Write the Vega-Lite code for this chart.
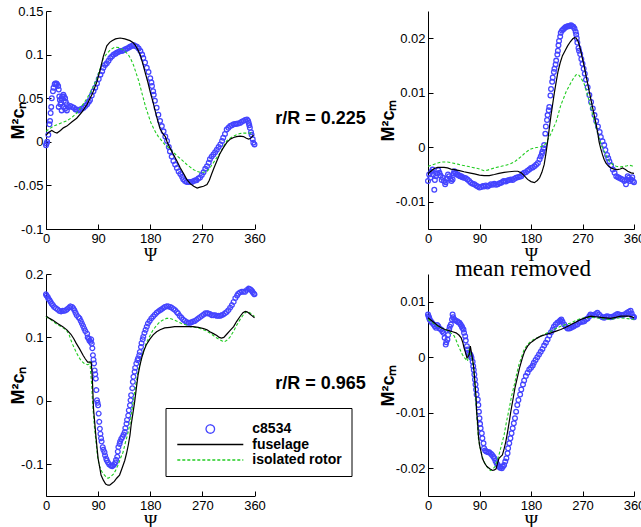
{
"$schema": "https://vega.github.io/schema/vega-lite/v6.json",
"padding": {"left": 9, "top": 5, "right": 0, "bottom": 0},
"config": {
 "view": {"stroke": null},
 "font": "Liberation Sans",
 "axis": {"domainColor": "#000", "domainWidth": 1, "tickColor": "#000", "tickWidth": 1, "tickSize": -5, "labelFont": "Liberation Sans", "labelFontSize": 13, "labelColor": "#000", "grid": false, "titleColor": "#000", "labelPadding": 8},
 "axisX": {"titleFont": "Liberation Serif", "titleFontSize": 18, "titleFontWeight": "normal", "titlePadding": 1, "labelFlush": false},
 "axisY": {"titleFont": "Liberation Sans", "titleFontWeight": "bold", "titleFontSize": 18}
},
"columns": 2,
"spacing": {"row": 45, "column": 173},
"bounds": "flush",
"align": "each",
"resolve": {"scale": {"color": "independent", "shape": "independent", "strokeDash": "independent", "x": "independent", "y": "independent"}, "legend": {"color": "independent", "shape": "independent", "strokeDash": "independent"}},
"datasets": {
 "p1c": [{"psi":0,"v":-0.004},{"psi":1,"v":-0.002},{"psi":2,"v":0.0},{"psi":4,"v":0.008},{"psi":6,"v":0.02},{"psi":7,"v":0.024},{"psi":8,"v":0.033},{"psi":9,"v":0.04},{"psi":10,"v":0.05},{"psi":12,"v":0.058},{"psi":13,"v":0.062},{"psi":15,"v":0.066},{"psi":16,"v":0.067},{"psi":18,"v":0.067},{"psi":19,"v":0.066},{"psi":21,"v":0.064},{"psi":22,"v":0.06},{"psi":23,"v":0.052},{"psi":24,"v":0.048},{"psi":25,"v":0.043},{"psi":26,"v":0.045},{"psi":27,"v":0.05},{"psi":28,"v":0.052},{"psi":30,"v":0.054},{"psi":31,"v":0.052},{"psi":33,"v":0.05},{"psi":34,"v":0.046},{"psi":36,"v":0.043},{"psi":22,"v":0.04},{"psi":27,"v":0.036},{"psi":30,"v":0.04},{"psi":33,"v":0.038},{"psi":36,"v":0.036},{"psi":39,"v":0.04},{"psi":42,"v":0.041},{"psi":45,"v":0.04},{"psi":48,"v":0.039},{"psi":51,"v":0.037},{"psi":53,"v":0.037},{"psi":56,"v":0.036},{"psi":59,"v":0.037},{"psi":62,"v":0.038},{"psi":65,"v":0.039},{"psi":68,"v":0.041},{"psi":71,"v":0.043},{"psi":74,"v":0.046},{"psi":76,"v":0.048},{"psi":79,"v":0.053},{"psi":82,"v":0.058},{"psi":85,"v":0.062},{"psi":88,"v":0.067},{"psi":91,"v":0.072},{"psi":94,"v":0.077},{"psi":97,"v":0.081},{"psi":99,"v":0.085},{"psi":102,"v":0.088},{"psi":105,"v":0.09},{"psi":108,"v":0.093},{"psi":111,"v":0.096},{"psi":114,"v":0.098},{"psi":117,"v":0.1},{"psi":120,"v":0.101},{"psi":122,"v":0.102},{"psi":125,"v":0.103},{"psi":128,"v":0.104},{"psi":131,"v":0.104},{"psi":134,"v":0.105},{"psi":137,"v":0.106},{"psi":140,"v":0.107},{"psi":143,"v":0.108},{"psi":145,"v":0.109},{"psi":148,"v":0.11},{"psi":151,"v":0.111},{"psi":154,"v":0.11},{"psi":157,"v":0.109},{"psi":160,"v":0.107},{"psi":163,"v":0.104},{"psi":166,"v":0.1},{"psi":168,"v":0.096},{"psi":171,"v":0.091},{"psi":174,"v":0.085},{"psi":177,"v":0.08},{"psi":180,"v":0.073},{"psi":182,"v":0.068},{"psi":183,"v":0.064},{"psi":185,"v":0.058},{"psi":186,"v":0.054},{"psi":188,"v":0.047},{"psi":191,"v":0.039},{"psi":194,"v":0.031},{"psi":197,"v":0.024},{"psi":200,"v":0.018},{"psi":203,"v":0.012},{"psi":206,"v":0.006},{"psi":209,"v":0.001},{"psi":212,"v":-0.006},{"psi":214,"v":-0.011},{"psi":217,"v":-0.017},{"psi":220,"v":-0.022},{"psi":223,"v":-0.026},{"psi":226,"v":-0.03},{"psi":229,"v":-0.034},{"psi":232,"v":-0.037},{"psi":235,"v":-0.04},{"psi":237,"v":-0.043},{"psi":240,"v":-0.045},{"psi":243,"v":-0.046},{"psi":246,"v":-0.046},{"psi":249,"v":-0.046},{"psi":252,"v":-0.046},{"psi":255,"v":-0.045},{"psi":258,"v":-0.044},{"psi":260,"v":-0.044},{"psi":263,"v":-0.042},{"psi":266,"v":-0.041},{"psi":269,"v":-0.038},{"psi":272,"v":-0.035},{"psi":275,"v":-0.031},{"psi":278,"v":-0.028},{"psi":281,"v":-0.024},{"psi":283,"v":-0.02},{"psi":286,"v":-0.017},{"psi":289,"v":-0.0145},{"psi":292,"v":-0.012},{"psi":295,"v":-0.009},{"psi":298,"v":-0.006},{"psi":301,"v":-0.003},{"psi":304,"v":0.001},{"psi":306,"v":0.0046},{"psi":309,"v":0.009},{"psi":312,"v":0.014},{"psi":315,"v":0.016},{"psi":318,"v":0.018},{"psi":321,"v":0.019},{"psi":324,"v":0.02},{"psi":327,"v":0.0205},{"psi":329,"v":0.0206},{"psi":332,"v":0.021},{"psi":335,"v":0.0217},{"psi":338,"v":0.023},{"psi":341,"v":0.024},{"psi":344,"v":0.025},{"psi":347,"v":0.0255},{"psi":349,"v":0.024},{"psi":350,"v":0.0217},{"psi":351,"v":0.019},{"psi":352,"v":0.016},{"psi":354,"v":0.011},{"psi":355,"v":0.008},{"psi":357,"v":0.003},{"psi":358,"v":-0.001},{"psi":360,"v":-0.003}],
 "p1f": [{"psi":0,"v":0.0075},{"psi":5,"v":0.011},{"psi":10,"v":0.013},{"psi":15,"v":0.011},{"psi":19,"v":0.01},{"psi":25,"v":0.013},{"psi":30,"v":0.016},{"psi":36,"v":0.018},{"psi":45,"v":0.023},{"psi":53,"v":0.027},{"psi":62,"v":0.034},{"psi":71,"v":0.043},{"psi":80,"v":0.055},{"psi":88,"v":0.069},{"psi":94,"v":0.084},{"psi":99,"v":0.098},{"psi":105,"v":0.11},{"psi":110,"v":0.114},{"psi":114,"v":0.116},{"psi":120,"v":0.118},{"psi":128,"v":0.119},{"psi":136,"v":0.118},{"psi":145,"v":0.116},{"psi":150,"v":0.114},{"psi":154,"v":0.111},{"psi":159,"v":0.105},{"psi":163,"v":0.099},{"psi":167,"v":0.09},{"psi":171,"v":0.08},{"psi":176,"v":0.068},{"psi":180,"v":0.057},{"psi":185,"v":0.045},{"psi":189,"v":0.034},{"psi":193,"v":0.024},{"psi":197,"v":0.015},{"psi":202,"v":0.009},{"psi":206,"v":0.006},{"psi":209,"v":0.0},{"psi":214,"v":-0.007},{"psi":220,"v":-0.0145},{"psi":226,"v":-0.022},{"psi":232,"v":-0.03},{"psi":238,"v":-0.037},{"psi":243,"v":-0.043},{"psi":249,"v":-0.048},{"psi":255,"v":-0.051},{"psi":261,"v":-0.053},{"psi":266,"v":-0.052},{"psi":272,"v":-0.051},{"psi":278,"v":-0.049},{"psi":282,"v":-0.044},{"psi":286,"v":-0.037},{"psi":290,"v":-0.03},{"psi":295,"v":-0.022},{"psi":300,"v":-0.014},{"psi":306,"v":-0.007},{"psi":312,"v":-0.001},{"psi":318,"v":0.003},{"psi":324,"v":0.005},{"psi":329,"v":0.006},{"psi":335,"v":0.0065},{"psi":341,"v":0.006},{"psi":346,"v":0.004},{"psi":350,"v":0.003},{"psi":353,"v":0.004},{"psi":356,"v":0.006},{"psi":358,"v":0.008}],
 "p1i": [{"psi":0,"v":0.012},{"psi":6,"v":0.015},{"psi":13,"v":0.018},{"psi":24,"v":0.021},{"psi":36,"v":0.024},{"psi":45,"v":0.028},{"psi":53,"v":0.033},{"psi":62,"v":0.041},{"psi":71,"v":0.05},{"psi":80,"v":0.061},{"psi":88,"v":0.073},{"psi":94,"v":0.085},{"psi":99,"v":0.096},{"psi":105,"v":0.101},{"psi":112,"v":0.106},{"psi":119,"v":0.1086},{"psi":126,"v":0.108},{"psi":134,"v":0.105},{"psi":139,"v":0.102},{"psi":143,"v":0.099},{"psi":147,"v":0.094},{"psi":151,"v":0.088},{"psi":155,"v":0.08},{"psi":160,"v":0.07},{"psi":164,"v":0.06},{"psi":168,"v":0.05},{"psi":172,"v":0.04},{"psi":177,"v":0.03},{"psi":181,"v":0.022},{"psi":186,"v":0.015},{"psi":190,"v":0.01},{"psi":194,"v":0.006},{"psi":200,"v":0.001},{"psi":205,"v":-0.003},{"psi":209,"v":-0.005},{"psi":217,"v":-0.01},{"psi":226,"v":-0.016},{"psi":235,"v":-0.021},{"psi":243,"v":-0.026},{"psi":249,"v":-0.029},{"psi":255,"v":-0.032},{"psi":261,"v":-0.034},{"psi":266,"v":-0.035},{"psi":272,"v":-0.035},{"psi":278,"v":-0.034},{"psi":283,"v":-0.03},{"psi":289,"v":-0.024},{"psi":295,"v":-0.018},{"psi":301,"v":-0.0126},{"psi":306,"v":-0.006},{"psi":312,"v":0.001},{"psi":318,"v":0.004},{"psi":324,"v":0.0065},{"psi":329,"v":0.008},{"psi":335,"v":0.0095},{"psi":341,"v":0.01},{"psi":347,"v":0.01},{"psi":353,"v":0.01},{"psi":358,"v":0.01}],
 "p2c": [{"psi":0,"v":-0.0062},{"psi":2,"v":-0.005},{"psi":4,"v":-0.0056},{"psi":6,"v":-0.0045},{"psi":8,"v":-0.0041},{"psi":9,"v":-0.005},{"psi":11,"v":-0.0078},{"psi":12,"v":-0.006},{"psi":14,"v":-0.0053},{"psi":16,"v":-0.0048},{"psi":18,"v":-0.0042},{"psi":20,"v":-0.0047},{"psi":22,"v":-0.0052},{"psi":24,"v":-0.006},{"psi":26,"v":-0.0056},{"psi":28,"v":-0.0062},{"psi":30,"v":-0.0068},{"psi":31,"v":-0.0064},{"psi":33,"v":-0.0058},{"psi":35,"v":-0.005},{"psi":37,"v":-0.0053},{"psi":39,"v":-0.0058},{"psi":41,"v":-0.0062},{"psi":43,"v":-0.0059},{"psi":45,"v":-0.0048},{"psi":46,"v":-0.0044},{"psi":48,"v":-0.0047},{"psi":50,"v":-0.005},{"psi":52,"v":-0.005},{"psi":54,"v":-0.0052},{"psi":56,"v":-0.0053},{"psi":58,"v":-0.0053},{"psi":60,"v":-0.0055},{"psi":63,"v":-0.0056},{"psi":66,"v":-0.0057},{"psi":69,"v":-0.0059},{"psi":72,"v":-0.0062},{"psi":75,"v":-0.0065},{"psi":78,"v":-0.0067},{"psi":81,"v":-0.0068},{"psi":84,"v":-0.007},{"psi":87,"v":-0.0072},{"psi":90,"v":-0.0074},{"psi":93,"v":-0.0073},{"psi":96,"v":-0.0071},{"psi":98,"v":-0.0072},{"psi":101,"v":-0.007},{"psi":104,"v":-0.0072},{"psi":107,"v":-0.007},{"psi":110,"v":-0.0068},{"psi":113,"v":-0.0069},{"psi":116,"v":-0.0067},{"psi":119,"v":-0.0069},{"psi":122,"v":-0.0068},{"psi":125,"v":-0.0066},{"psi":128,"v":-0.0065},{"psi":131,"v":-0.0063},{"psi":133,"v":-0.0062},{"psi":136,"v":-0.0063},{"psi":139,"v":-0.0061},{"psi":142,"v":-0.006},{"psi":145,"v":-0.0059},{"psi":148,"v":-0.006},{"psi":151,"v":-0.0058},{"psi":154,"v":-0.0056},{"psi":157,"v":-0.0055},{"psi":160,"v":-0.0054},{"psi":163,"v":-0.0053},{"psi":165,"v":-0.0049},{"psi":168,"v":-0.0047},{"psi":171,"v":-0.0046},{"psi":174,"v":-0.0043},{"psi":177,"v":-0.0041},{"psi":180,"v":-0.0038},{"psi":183,"v":-0.0037},{"psi":186,"v":-0.0035},{"psi":189,"v":-0.0032},{"psi":192,"v":-0.0029},{"psi":195,"v":-0.0022},{"psi":197,"v":-0.0017},{"psi":199,"v":-0.0012},{"psi":200,"v":-0.0008},{"psi":202,"v":-0.0002},{"psi":203,"v":0.0004},{"psi":205,"v":0.0025},{"psi":206,"v":0.0038},{"psi":208,"v":0.005},{"psi":209,"v":0.0059},{"psi":211,"v":0.0068},{"psi":212,"v":0.0074},{"psi":214,"v":0.0095},{"psi":215,"v":0.0107},{"psi":217,"v":0.012},{"psi":218,"v":0.0128},{"psi":220,"v":0.0138},{"psi":221,"v":0.0144},{"psi":223,"v":0.0152},{"psi":224,"v":0.0159},{"psi":226,"v":0.017},{"psi":227,"v":0.0177},{"psi":228,"v":0.0187},{"psi":229,"v":0.0195},{"psi":231,"v":0.0203},{"psi":232,"v":0.021},{"psi":234,"v":0.0214},{"psi":236,"v":0.0216},{"psi":238,"v":0.0218},{"psi":240,"v":0.022},{"psi":242,"v":0.0221},{"psi":244,"v":0.0222},{"psi":246,"v":0.0222},{"psi":248,"v":0.0223},{"psi":250,"v":0.0224},{"psi":252,"v":0.0222},{"psi":254,"v":0.0221},{"psi":256,"v":0.0218},{"psi":258,"v":0.0212},{"psi":259,"v":0.0207},{"psi":260,"v":0.02},{"psi":261,"v":0.0192},{"psi":263,"v":0.0182},{"psi":264,"v":0.0177},{"psi":266,"v":0.0171},{"psi":268,"v":0.0162},{"psi":270,"v":0.0153},{"psi":272,"v":0.0144},{"psi":274,"v":0.0135},{"psi":276,"v":0.0124},{"psi":279,"v":0.011},{"psi":282,"v":0.0096},{"psi":285,"v":0.0083},{"psi":288,"v":0.0071},{"psi":291,"v":0.0059},{"psi":294,"v":0.0048},{"psi":297,"v":0.0038},{"psi":300,"v":0.0028},{"psi":302,"v":0.0019},{"psi":305,"v":0.0011},{"psi":308,"v":0.0004},{"psi":310,"v":-0.0005},{"psi":313,"v":-0.0014},{"psi":315,"v":-0.002},{"psi":317,"v":-0.0026},{"psi":320,"v":-0.0033},{"psi":323,"v":-0.0041},{"psi":326,"v":-0.0047},{"psi":329,"v":-0.0053},{"psi":332,"v":-0.0055},{"psi":334,"v":-0.0056},{"psi":337,"v":-0.0058},{"psi":340,"v":-0.0059},{"psi":343,"v":-0.0062},{"psi":346,"v":-0.0068},{"psi":348,"v":-0.006},{"psi":349,"v":-0.0053},{"psi":351,"v":-0.0056},{"psi":353,"v":-0.0062},{"psi":355,"v":-0.0059},{"psi":357,"v":-0.0055},{"psi":358,"v":-0.0062},{"psi":360,"v":-0.0064}],
 "p2f": [{"psi":0,"v":-0.0048},{"psi":5,"v":-0.0044},{"psi":11,"v":-0.0039},{"psi":17,"v":-0.0037},{"psi":23,"v":-0.0037},{"psi":28,"v":-0.0037},{"psi":34,"v":-0.0038},{"psi":40,"v":-0.004},{"psi":46,"v":-0.0041},{"psi":55,"v":-0.0043},{"psi":63,"v":-0.0045},{"psi":72,"v":-0.0047},{"psi":81,"v":-0.0049},{"psi":90,"v":-0.0051},{"psi":98,"v":-0.0052},{"psi":107,"v":-0.0052},{"psi":116,"v":-0.005},{"psi":124,"v":-0.0048},{"psi":133,"v":-0.0046},{"psi":142,"v":-0.0045},{"psi":151,"v":-0.0044},{"psi":157,"v":-0.0044},{"psi":163,"v":-0.0047},{"psi":168,"v":-0.0052},{"psi":174,"v":-0.0059},{"psi":180,"v":-0.0063},{"psi":186,"v":-0.0065},{"psi":191,"v":-0.0061},{"psi":195,"v":-0.0056},{"psi":199,"v":-0.0046},{"psi":203,"v":-0.0032},{"psi":206,"v":-0.0012},{"psi":209,"v":0.001},{"psi":212,"v":0.0035},{"psi":215,"v":0.0059},{"psi":218,"v":0.008},{"psi":221,"v":0.0101},{"psi":224,"v":0.012},{"psi":227,"v":0.0138},{"psi":231,"v":0.0155},{"psi":235,"v":0.0168},{"psi":240,"v":0.0178},{"psi":244,"v":0.0186},{"psi":249,"v":0.0194},{"psi":253,"v":0.0199},{"psi":256,"v":0.0201},{"psi":259,"v":0.02},{"psi":262,"v":0.0195},{"psi":264,"v":0.0189},{"psi":267,"v":0.0177},{"psi":270,"v":0.0162},{"psi":273,"v":0.0148},{"psi":276,"v":0.0132},{"psi":279,"v":0.0117},{"psi":282,"v":0.0101},{"psi":285,"v":0.0086},{"psi":288,"v":0.0071},{"psi":291,"v":0.0056},{"psi":294,"v":0.0041},{"psi":297,"v":0.0024},{"psi":299,"v":0.001},{"psi":302,"v":-0.0003},{"psi":305,"v":-0.0014},{"psi":308,"v":-0.0023},{"psi":311,"v":-0.0029},{"psi":315,"v":-0.0034},{"psi":320,"v":-0.0038},{"psi":325,"v":-0.004},{"psi":331,"v":-0.0041},{"psi":336,"v":-0.004},{"psi":340,"v":-0.0038},{"psi":345,"v":-0.0041},{"psi":349,"v":-0.0044},{"psi":355,"v":-0.0047},{"psi":360,"v":-0.0048}],
 "p2i": [{"psi":0,"v":-0.0035},{"psi":6,"v":-0.0033},{"psi":11,"v":-0.0031},{"psi":17,"v":-0.0029},{"psi":23,"v":-0.0027},{"psi":29,"v":-0.0027},{"psi":34,"v":-0.0027},{"psi":43,"v":-0.0029},{"psi":52,"v":-0.0031},{"psi":60,"v":-0.0033},{"psi":69,"v":-0.0035},{"psi":78,"v":-0.0037},{"psi":87,"v":-0.0039},{"psi":93,"v":-0.0041},{"psi":98,"v":-0.0043},{"psi":104,"v":-0.0042},{"psi":110,"v":-0.004},{"psi":119,"v":-0.0037},{"psi":128,"v":-0.0035},{"psi":136,"v":-0.0033},{"psi":145,"v":-0.003},{"psi":151,"v":-0.0027},{"psi":157,"v":-0.0022},{"psi":163,"v":-0.0017},{"psi":168,"v":-0.0012},{"psi":174,"v":-0.0007},{"psi":180,"v":-0.0003},{"psi":186,"v":-0.0001},{"psi":192,"v":0.0},{"psi":197,"v":0.0001},{"psi":202,"v":0.0003},{"psi":206,"v":0.0007},{"psi":210,"v":0.0015},{"psi":215,"v":0.0025},{"psi":219,"v":0.0035},{"psi":224,"v":0.0047},{"psi":228,"v":0.0062},{"psi":232,"v":0.0077},{"psi":237,"v":0.009},{"psi":241,"v":0.0101},{"psi":246,"v":0.0111},{"psi":250,"v":0.0119},{"psi":255,"v":0.0128},{"psi":259,"v":0.0133},{"psi":262,"v":0.0134},{"psi":264,"v":0.0132},{"psi":268,"v":0.0126},{"psi":273,"v":0.0116},{"psi":276,"v":0.0106},{"psi":279,"v":0.0095},{"psi":282,"v":0.0083},{"psi":285,"v":0.0071},{"psi":288,"v":0.0059},{"psi":291,"v":0.0047},{"psi":295,"v":0.0032},{"psi":299,"v":0.0016},{"psi":303,"v":0.0004},{"psi":308,"v":-0.0008},{"psi":312,"v":-0.0017},{"psi":317,"v":-0.0026},{"psi":323,"v":-0.0032},{"psi":329,"v":-0.0035},{"psi":336,"v":-0.0036},{"psi":343,"v":-0.0035},{"psi":348,"v":-0.0034},{"psi":352,"v":-0.0033},{"psi":356,"v":-0.0034},{"psi":360,"v":-0.0036}],
 "p3c": [{"psi":0,"v":0.168},{"psi":1,"v":0.166},{"psi":3,"v":0.164},{"psi":4,"v":0.161},{"psi":6,"v":0.159},{"psi":8,"v":0.156},{"psi":10,"v":0.153},{"psi":12,"v":0.151},{"psi":14,"v":0.148},{"psi":17,"v":0.146},{"psi":20,"v":0.144},{"psi":23,"v":0.142},{"psi":26,"v":0.141},{"psi":29,"v":0.142},{"psi":32,"v":0.142},{"psi":35,"v":0.143},{"psi":37,"v":0.145},{"psi":40,"v":0.147},{"psi":42,"v":0.149},{"psi":45,"v":0.148},{"psi":47,"v":0.146},{"psi":49,"v":0.143},{"psi":51,"v":0.139},{"psi":53,"v":0.135},{"psi":56,"v":0.132},{"psi":58,"v":0.13},{"psi":60,"v":0.126},{"psi":62,"v":0.122},{"psi":64,"v":0.118},{"psi":66,"v":0.114},{"psi":68,"v":0.11},{"psi":71,"v":0.106},{"psi":72,"v":0.1},{"psi":74,"v":0.098},{"psi":75,"v":0.095},{"psi":77,"v":0.093},{"psi":78,"v":0.097},{"psi":79,"v":0.09},{"psi":80,"v":0.083},{"psi":81,"v":0.072},{"psi":82,"v":0.065},{"psi":83,"v":0.059},{"psi":84,"v":0.048},{"psi":85,"v":0.042},{"psi":86,"v":0.035},{"psi":87,"v":0.017},{"psi":88,"v":0.001},{"psi":89,"v":-0.003},{"psi":90,"v":-0.007},{"psi":91,"v":-0.02},{"psi":92,"v":-0.033},{"psi":93,"v":-0.044},{"psi":94,"v":-0.052},{"psi":95,"v":-0.059},{"psi":96,"v":-0.064},{"psi":98,"v":-0.073},{"psi":99,"v":-0.077},{"psi":101,"v":-0.081},{"psi":102,"v":-0.086},{"psi":104,"v":-0.091},{"psi":105,"v":-0.094},{"psi":107,"v":-0.097},{"psi":109,"v":-0.1},{"psi":112,"v":-0.102},{"psi":114,"v":-0.103},{"psi":116,"v":-0.102},{"psi":118,"v":-0.1},{"psi":120,"v":-0.097},{"psi":121,"v":-0.093},{"psi":123,"v":-0.088},{"psi":124,"v":-0.08},{"psi":125,"v":-0.073},{"psi":127,"v":-0.068},{"psi":128,"v":-0.064},{"psi":130,"v":-0.06},{"psi":132,"v":-0.057},{"psi":134,"v":-0.053},{"psi":136,"v":-0.049},{"psi":137,"v":-0.043},{"psi":139,"v":-0.036},{"psi":140,"v":-0.03},{"psi":142,"v":-0.023},{"psi":143,"v":-0.015},{"psi":145,"v":-0.007},{"psi":146,"v":0.001},{"psi":147,"v":0.009},{"psi":149,"v":0.02},{"psi":150,"v":0.03},{"psi":151,"v":0.038},{"psi":153,"v":0.046},{"psi":154,"v":0.052},{"psi":156,"v":0.059},{"psi":158,"v":0.064},{"psi":159,"v":0.067},{"psi":161,"v":0.072},{"psi":162,"v":0.077},{"psi":164,"v":0.085},{"psi":165,"v":0.091},{"psi":167,"v":0.097},{"psi":168,"v":0.101},{"psi":170,"v":0.107},{"psi":172,"v":0.112},{"psi":174,"v":0.117},{"psi":176,"v":0.122},{"psi":179,"v":0.126},{"psi":182,"v":0.13},{"psi":185,"v":0.133},{"psi":188,"v":0.136},{"psi":191,"v":0.139},{"psi":194,"v":0.141},{"psi":197,"v":0.143},{"psi":199,"v":0.144},{"psi":202,"v":0.146},{"psi":205,"v":0.148},{"psi":208,"v":0.149},{"psi":211,"v":0.149},{"psi":214,"v":0.148},{"psi":217,"v":0.147},{"psi":220,"v":0.145},{"psi":223,"v":0.143},{"psi":226,"v":0.14},{"psi":228,"v":0.138},{"psi":231,"v":0.134},{"psi":234,"v":0.131},{"psi":237,"v":0.128},{"psi":240,"v":0.126},{"psi":243,"v":0.124},{"psi":246,"v":0.123},{"psi":249,"v":0.123},{"psi":251,"v":0.124},{"psi":254,"v":0.125},{"psi":257,"v":0.126},{"psi":260,"v":0.128},{"psi":263,"v":0.13},{"psi":266,"v":0.132},{"psi":269,"v":0.134},{"psi":272,"v":0.136},{"psi":275,"v":0.138},{"psi":278,"v":0.138},{"psi":280,"v":0.138},{"psi":283,"v":0.137},{"psi":286,"v":0.135},{"psi":289,"v":0.135},{"psi":292,"v":0.135},{"psi":295,"v":0.134},{"psi":298,"v":0.134},{"psi":301,"v":0.134},{"psi":303,"v":0.135},{"psi":306,"v":0.136},{"psi":309,"v":0.138},{"psi":312,"v":0.14},{"psi":315,"v":0.143},{"psi":318,"v":0.147},{"psi":321,"v":0.151},{"psi":324,"v":0.156},{"psi":327,"v":0.162},{"psi":330,"v":0.166},{"psi":332,"v":0.169},{"psi":335,"v":0.171},{"psi":338,"v":0.172},{"psi":341,"v":0.172},{"psi":344,"v":0.172},{"psi":347,"v":0.175},{"psi":350,"v":0.177},{"psi":352,"v":0.176},{"psi":354,"v":0.175},{"psi":356,"v":0.173},{"psi":357,"v":0.171},{"psi":359,"v":0.169},{"psi":360,"v":0.168}],
 "p3f": [{"psi":0,"v":0.134},{"psi":6,"v":0.13},{"psi":12,"v":0.127},{"psi":20,"v":0.122},{"psi":29,"v":0.117},{"psi":36,"v":0.112},{"psi":43,"v":0.105},{"psi":48,"v":0.098},{"psi":52,"v":0.091},{"psi":58,"v":0.082},{"psi":64,"v":0.072},{"psi":68,"v":0.066},{"psi":72,"v":0.061},{"psi":76,"v":0.061},{"psi":78,"v":0.061},{"psi":79,"v":0.05},{"psi":80,"v":0.035},{"psi":81,"v":0.012},{"psi":82,"v":-0.012},{"psi":84,"v":-0.033},{"psi":86,"v":-0.054},{"psi":88,"v":-0.073},{"psi":90,"v":-0.091},{"psi":93,"v":-0.106},{"psi":95,"v":-0.117},{"psi":99,"v":-0.125},{"psi":103,"v":-0.131},{"psi":107,"v":-0.133},{"psi":110,"v":-0.133},{"psi":114,"v":-0.13},{"psi":118,"v":-0.127},{"psi":122,"v":-0.122},{"psi":127,"v":-0.117},{"psi":131,"v":-0.107},{"psi":136,"v":-0.094},{"psi":139,"v":-0.083},{"psi":142,"v":-0.07},{"psi":145,"v":-0.054},{"psi":147,"v":-0.038},{"psi":150,"v":-0.02},{"psi":153,"v":-0.002},{"psi":156,"v":0.02},{"psi":159,"v":0.041},{"psi":162,"v":0.055},{"psi":165,"v":0.067},{"psi":169,"v":0.079},{"psi":173,"v":0.088},{"psi":179,"v":0.097},{"psi":185,"v":0.104},{"psi":191,"v":0.109},{"psi":197,"v":0.112},{"psi":205,"v":0.115},{"psi":214,"v":0.116},{"psi":222,"v":0.117},{"psi":231,"v":0.117},{"psi":243,"v":0.117},{"psi":254,"v":0.117},{"psi":263,"v":0.116},{"psi":272,"v":0.114},{"psi":278,"v":0.112},{"psi":283,"v":0.109},{"psi":289,"v":0.106},{"psi":295,"v":0.103},{"psi":299,"v":0.1},{"psi":303,"v":0.099},{"psi":307,"v":0.1},{"psi":312,"v":0.105},{"psi":318,"v":0.111},{"psi":324,"v":0.117},{"psi":329,"v":0.125},{"psi":335,"v":0.133},{"psi":340,"v":0.139},{"psi":344,"v":0.141},{"psi":348,"v":0.14},{"psi":352,"v":0.137},{"psi":356,"v":0.134},{"psi":360,"v":0.131}],
 "p3i": [{"psi":0,"v":0.133},{"psi":8,"v":0.128},{"psi":17,"v":0.122},{"psi":26,"v":0.117},{"psi":35,"v":0.112},{"psi":40,"v":0.104},{"psi":43,"v":0.096},{"psi":46,"v":0.089},{"psi":49,"v":0.083},{"psi":53,"v":0.075},{"psi":58,"v":0.067},{"psi":62,"v":0.062},{"psi":66,"v":0.059},{"psi":69,"v":0.058},{"psi":72,"v":0.057},{"psi":74,"v":0.058},{"psi":76,"v":0.062},{"psi":77,"v":0.045},{"psi":79,"v":0.025},{"psi":80,"v":0.005},{"psi":82,"v":-0.023},{"psi":84,"v":-0.045},{"psi":87,"v":-0.07},{"psi":89,"v":-0.088},{"psi":92,"v":-0.102},{"psi":96,"v":-0.111},{"psi":101,"v":-0.117},{"psi":104,"v":-0.12},{"psi":107,"v":-0.122},{"psi":111,"v":-0.12},{"psi":116,"v":-0.116},{"psi":120,"v":-0.11},{"psi":124,"v":-0.102},{"psi":128,"v":-0.092},{"psi":133,"v":-0.081},{"psi":137,"v":-0.066},{"psi":142,"v":-0.049},{"psi":145,"v":-0.036},{"psi":147,"v":-0.023},{"psi":150,"v":-0.005},{"psi":153,"v":0.014},{"psi":156,"v":0.03},{"psi":159,"v":0.046},{"psi":162,"v":0.057},{"psi":165,"v":0.067},{"psi":169,"v":0.08},{"psi":173,"v":0.091},{"psi":179,"v":0.102},{"psi":185,"v":0.112},{"psi":191,"v":0.119},{"psi":197,"v":0.125},{"psi":203,"v":0.128},{"psi":208,"v":0.13},{"psi":214,"v":0.13},{"psi":220,"v":0.128},{"psi":227,"v":0.125},{"psi":234,"v":0.122},{"psi":241,"v":0.12},{"psi":249,"v":0.117},{"psi":257,"v":0.116},{"psi":266,"v":0.114},{"psi":272,"v":0.112},{"psi":277,"v":0.11},{"psi":283,"v":0.107},{"psi":289,"v":0.103},{"psi":295,"v":0.099},{"psi":301,"v":0.096},{"psi":305,"v":0.094},{"psi":308,"v":0.093},{"psi":313,"v":0.096},{"psi":318,"v":0.101},{"psi":324,"v":0.11},{"psi":329,"v":0.119},{"psi":335,"v":0.128},{"psi":341,"v":0.136},{"psi":345,"v":0.14},{"psi":348,"v":0.141},{"psi":352,"v":0.139},{"psi":356,"v":0.136},{"psi":360,"v":0.133}],
 "p4c": [{"psi":0,"v":0.0077},{"psi":1,"v":0.0074},{"psi":2,"v":0.0071},{"psi":3,"v":0.0068},{"psi":5,"v":0.0065},{"psi":7,"v":0.0062},{"psi":10,"v":0.0059},{"psi":12,"v":0.0056},{"psi":14,"v":0.0053},{"psi":16,"v":0.0058},{"psi":18,"v":0.0056},{"psi":20,"v":0.0052},{"psi":23,"v":0.005},{"psi":25,"v":0.0047},{"psi":27,"v":0.0044},{"psi":29,"v":0.0035},{"psi":31,"v":0.0023},{"psi":32,"v":0.0027},{"psi":34,"v":0.0032},{"psi":35,"v":0.004},{"psi":37,"v":0.005},{"psi":38,"v":0.0055},{"psi":40,"v":0.0059},{"psi":42,"v":0.0068},{"psi":43,"v":0.0077},{"psi":44,"v":0.0072},{"psi":46,"v":0.0068},{"psi":48,"v":0.0066},{"psi":51,"v":0.0065},{"psi":53,"v":0.0063},{"psi":55,"v":0.0062},{"psi":57,"v":0.0059},{"psi":59,"v":0.0056},{"psi":60,"v":0.0053},{"psi":62,"v":0.005},{"psi":63,"v":0.0044},{"psi":65,"v":0.0038},{"psi":66,"v":0.003},{"psi":68,"v":0.002},{"psi":69,"v":0.0014},{"psi":70,"v":0.0008},{"psi":72,"v":0.0006},{"psi":74,"v":0.0005},{"psi":75,"v":0.0002},{"psi":76,"v":-0.0001},{"psi":78,"v":-0.0008},{"psi":79,"v":-0.0016},{"psi":80,"v":-0.0023},{"psi":81,"v":-0.0031},{"psi":82,"v":-0.004},{"psi":83,"v":-0.0049},{"psi":84,"v":-0.0058},{"psi":85,"v":-0.0067},{"psi":87,"v":-0.0076},{"psi":88,"v":-0.0086},{"psi":89,"v":-0.0098},{"psi":90,"v":-0.011},{"psi":91,"v":-0.012},{"psi":92,"v":-0.0128},{"psi":94,"v":-0.0137},{"psi":95,"v":-0.0146},{"psi":97,"v":-0.0155},{"psi":98,"v":-0.0164},{"psi":100,"v":-0.0168},{"psi":102,"v":-0.017},{"psi":105,"v":-0.0171},{"psi":107,"v":-0.0171},{"psi":110,"v":-0.0174},{"psi":112,"v":-0.0176},{"psi":114,"v":-0.0179},{"psi":116,"v":-0.0182},{"psi":118,"v":-0.0187},{"psi":120,"v":-0.0191},{"psi":122,"v":-0.0194},{"psi":124,"v":-0.0197},{"psi":126,"v":-0.0199},{"psi":129,"v":-0.02},{"psi":131,"v":-0.0197},{"psi":133,"v":-0.0194},{"psi":135,"v":-0.0188},{"psi":137,"v":-0.0182},{"psi":139,"v":-0.0173},{"psi":140,"v":-0.0164},{"psi":142,"v":-0.0155},{"psi":144,"v":-0.0146},{"psi":146,"v":-0.0137},{"psi":148,"v":-0.0128},{"psi":150,"v":-0.0119},{"psi":152,"v":-0.011},{"psi":154,"v":-0.0098},{"psi":156,"v":-0.0086},{"psi":158,"v":-0.0077},{"psi":161,"v":-0.0067},{"psi":163,"v":-0.0058},{"psi":166,"v":-0.0049},{"psi":168,"v":-0.0042},{"psi":171,"v":-0.0034},{"psi":174,"v":-0.0028},{"psi":177,"v":-0.0022},{"psi":180,"v":-0.0019},{"psi":183,"v":-0.0015},{"psi":185,"v":-0.001},{"psi":188,"v":-0.0005},{"psi":191,"v":0.0},{"psi":194,"v":0.0005},{"psi":197,"v":0.001},{"psi":200,"v":0.0015},{"psi":203,"v":0.0021},{"psi":206,"v":0.0026},{"psi":209,"v":0.0032},{"psi":212,"v":0.0039},{"psi":215,"v":0.0045},{"psi":218,"v":0.005},{"psi":220,"v":0.0055},{"psi":223,"v":0.0059},{"psi":226,"v":0.0062},{"psi":229,"v":0.0064},{"psi":231,"v":0.0066},{"psi":233,"v":0.0068},{"psi":235,"v":0.0064},{"psi":238,"v":0.0059},{"psi":241,"v":0.0055},{"psi":244,"v":0.0052},{"psi":247,"v":0.0052},{"psi":250,"v":0.0053},{"psi":253,"v":0.0055},{"psi":255,"v":0.0056},{"psi":258,"v":0.0058},{"psi":261,"v":0.0059},{"psi":264,"v":0.0062},{"psi":267,"v":0.0064},{"psi":270,"v":0.0064},{"psi":273,"v":0.0065},{"psi":276,"v":0.0068},{"psi":279,"v":0.007},{"psi":282,"v":0.0074},{"psi":284,"v":0.0077},{"psi":287,"v":0.0076},{"psi":290,"v":0.0076},{"psi":293,"v":0.0078},{"psi":296,"v":0.008},{"psi":299,"v":0.0077},{"psi":302,"v":0.0074},{"psi":305,"v":0.0072},{"psi":308,"v":0.0071},{"psi":311,"v":0.0073},{"psi":313,"v":0.0074},{"psi":316,"v":0.0073},{"psi":319,"v":0.0072},{"psi":322,"v":0.0073},{"psi":325,"v":0.0074},{"psi":328,"v":0.0076},{"psi":331,"v":0.0078},{"psi":334,"v":0.0077},{"psi":337,"v":0.0076},{"psi":340,"v":0.0076},{"psi":343,"v":0.0077},{"psi":346,"v":0.0078},{"psi":348,"v":0.008},{"psi":351,"v":0.0082},{"psi":354,"v":0.0084},{"psi":356,"v":0.0079},{"psi":357,"v":0.0074},{"psi":359,"v":0.0073},{"psi":360,"v":0.0072}],
 "p4f": [{"psi":0,"v":0.0071},{"psi":5,"v":0.0067},{"psi":11,"v":0.0062},{"psi":17,"v":0.0057},{"psi":23,"v":0.0053},{"psi":30,"v":0.005},{"psi":37,"v":0.0048},{"psi":43,"v":0.0046},{"psi":49,"v":0.0044},{"psi":54,"v":0.004},{"psi":58,"v":0.0035},{"psi":61,"v":0.0026},{"psi":63,"v":0.0017},{"psi":66,"v":0.0007},{"psi":68,"v":-0.0001},{"psi":70,"v":0.0001},{"psi":72,"v":0.0005},{"psi":74,"v":0.002},{"psi":76,"v":0.0008},{"psi":78,"v":-0.0004},{"psi":80,"v":-0.0019},{"psi":82,"v":-0.0045},{"psi":84,"v":-0.0073},{"psi":85,"v":-0.0098},{"psi":87,"v":-0.0122},{"psi":88,"v":-0.014},{"psi":90,"v":-0.0158},{"psi":93,"v":-0.0172},{"psi":95,"v":-0.0182},{"psi":99,"v":-0.0191},{"psi":103,"v":-0.0197},{"psi":108,"v":-0.0201},{"psi":113,"v":-0.0204},{"psi":116,"v":-0.0203},{"psi":119,"v":-0.0201},{"psi":121,"v":-0.0193},{"psi":124,"v":-0.0182},{"psi":127,"v":-0.0179},{"psi":130,"v":-0.0176},{"psi":133,"v":-0.0165},{"psi":136,"v":-0.0152},{"psi":139,"v":-0.0135},{"psi":142,"v":-0.0116},{"psi":145,"v":-0.0096},{"psi":149,"v":-0.0073},{"psi":152,"v":-0.0055},{"psi":156,"v":-0.0037},{"psi":160,"v":-0.0019},{"psi":165,"v":-0.0001},{"psi":169,"v":0.0011},{"psi":174,"v":0.002},{"psi":179,"v":0.0026},{"psi":183,"v":0.0029},{"psi":190,"v":0.0034},{"psi":197,"v":0.0038},{"psi":206,"v":0.0041},{"psi":215,"v":0.0044},{"psi":224,"v":0.0047},{"psi":232,"v":0.005},{"psi":241,"v":0.0054},{"psi":250,"v":0.0059},{"psi":258,"v":0.0063},{"psi":267,"v":0.0068},{"psi":275,"v":0.0071},{"psi":284,"v":0.0074},{"psi":293,"v":0.0073},{"psi":302,"v":0.0072},{"psi":310,"v":0.0071},{"psi":319,"v":0.007},{"psi":328,"v":0.0072},{"psi":337,"v":0.0074},{"psi":344,"v":0.0074},{"psi":351,"v":0.0074},{"psi":356,"v":0.0073},{"psi":360,"v":0.0071}],
 "p4i": [{"psi":0,"v":0.0068},{"psi":8,"v":0.0062},{"psi":17,"v":0.0056},{"psi":25,"v":0.0052},{"psi":34,"v":0.0048},{"psi":40,"v":0.0044},{"psi":46,"v":0.0038},{"psi":49,"v":0.0031},{"psi":52,"v":0.0023},{"psi":56,"v":0.0014},{"psi":60,"v":0.0005},{"psi":64,"v":-0.0001},{"psi":69,"v":-0.0007},{"psi":71,"v":0.0005},{"psi":72,"v":0.0014},{"psi":74,"v":0.001},{"psi":75,"v":0.0005},{"psi":78,"v":-0.0008},{"psi":80,"v":-0.0025},{"psi":82,"v":-0.0055},{"psi":84,"v":-0.0086},{"psi":86,"v":-0.0116},{"psi":88,"v":-0.0146},{"psi":91,"v":-0.0163},{"psi":94,"v":-0.0176},{"psi":97,"v":-0.0186},{"psi":101,"v":-0.0194},{"psi":105,"v":-0.02},{"psi":109,"v":-0.0204},{"psi":113,"v":-0.0202},{"psi":117,"v":-0.0197},{"psi":120,"v":-0.0188},{"psi":124,"v":-0.0176},{"psi":128,"v":-0.016},{"psi":133,"v":-0.014},{"psi":137,"v":-0.0117},{"psi":142,"v":-0.0092},{"psi":146,"v":-0.007},{"psi":151,"v":-0.0049},{"psi":155,"v":-0.003},{"psi":159,"v":-0.0013},{"psi":164,"v":0.0002},{"psi":168,"v":0.0014},{"psi":174,"v":0.0023},{"psi":180,"v":0.0029},{"psi":188,"v":0.0034},{"psi":197,"v":0.0038},{"psi":206,"v":0.0043},{"psi":215,"v":0.0047},{"psi":224,"v":0.0052},{"psi":232,"v":0.0056},{"psi":241,"v":0.0059},{"psi":250,"v":0.0062},{"psi":258,"v":0.0066},{"psi":267,"v":0.007},{"psi":275,"v":0.0071},{"psi":284,"v":0.0072},{"psi":293,"v":0.0071},{"psi":302,"v":0.007},{"psi":310,"v":0.0069},{"psi":319,"v":0.0068},{"psi":328,"v":0.007},{"psi":337,"v":0.0071},{"psi":346,"v":0.007},{"psi":353,"v":0.0069},{"psi":360,"v":0.0068}]
},
"concat": [
 {
  "width": 208.5, "height": 218,
  "layer": [
   {"data": {"name": "p1c"}, "mark": {"type": "point", "filled": false, "size": 22, "strokeWidth": 1.3, "color": "#4444ff", "opacity": 1},
    "encoding": {
     "x": {"field": "psi", "type": "quantitative", "scale": {"domain": [0, 360], "nice": false, "zero": false},
           "axis": {"values": [0,45,90,135,180,225,270,315,360], "labelExpr": "datum.value % 90 === 0 ? datum.label : ''", "title": "Ψ"}},
     "y": {"field": "v", "type": "quantitative", "scale": {"domain": [-0.1, 0.15], "nice": false, "zero": false},
           "axis": {"values": [-0.1,-0.05,0,0.05,0.1,0.15], "labelExpr": "replace(format(datum.value, '~g'), '−', '-')", "title": "M²cₙ", "titleX": -19}}}},
   {"data": {"name": "p1i"}, "mark": {"type": "line", "color": "#22cc22", "strokeWidth": 1.1, "strokeDash": [3, 2]},
    "encoding": {"x": {"field": "psi", "type": "quantitative"}, "y": {"field": "v", "type": "quantitative"}}},
   {"data": {"name": "p1f"}, "mark": {"type": "line", "color": "#000000", "strokeWidth": 1.2},
    "encoding": {"x": {"field": "psi", "type": "quantitative"}, "y": {"field": "v", "type": "quantitative"}}},
   {"data": {"values": [{}]}, "mark": {"type": "text", "text": "r/R = 0.225", "font": "Liberation Sans", "fontWeight": "bold", "fontSize": 18, "align": "center", "baseline": "middle", "color": "#000"},
    "encoding": {"x": {"datum": 474, "type": "quantitative"}, "y": {"datum": 0.0261, "type": "quantitative"}}}
  ]
 },
 {
  "width": 206, "height": 218,
  "layer": [
   {"data": {"name": "p2c"}, "mark": {"type": "point", "filled": false, "size": 22, "strokeWidth": 1.3, "color": "#4444ff", "opacity": 1},
    "encoding": {
     "x": {"field": "psi", "type": "quantitative", "scale": {"domain": [0, 360], "nice": false, "zero": false},
           "axis": {"values": [0,45,90,135,180,225,270,315,360], "labelExpr": "datum.value % 90 === 0 ? datum.label : ''", "title": "Ψ"}},
     "y": {"field": "v", "type": "quantitative", "scale": {"domain": [-0.015, 0.025], "nice": false, "zero": false},
           "axis": {"values": [-0.01,0,0.01,0.02], "labelExpr": "replace(format(datum.value, '~g'), '−', '-')", "title": "M²cₘ", "titleX": -31}}}},
   {"data": {"name": "p2i"}, "mark": {"type": "line", "color": "#22cc22", "strokeWidth": 1.1, "strokeDash": [3, 2]},
    "encoding": {"x": {"field": "psi", "type": "quantitative"}, "y": {"field": "v", "type": "quantitative"}}},
   {"data": {"name": "p2f"}, "mark": {"type": "line", "color": "#000000", "strokeWidth": 1.2},
    "encoding": {"x": {"field": "psi", "type": "quantitative"}, "y": {"field": "v", "type": "quantitative"}}},
   {"data": {"values": [{}]}, "mark": {"type": "text", "text": "mean removed", "font": "Liberation Serif", "fontSize": 23, "align": "center", "baseline": "middle", "color": "#000"},
    "encoding": {"x": {"datum": 166, "type": "quantitative"}, "y": {"datum": -0.0224, "type": "quantitative"}}}
  ]
 },
 {
  "width": 208.5, "height": 222,
  "layer": [
   {"data": {"name": "p3c"}, "mark": {"type": "point", "filled": false, "size": 22, "strokeWidth": 1.3, "opacity": 1},
    "encoding": {
     "x": {"field": "psi", "type": "quantitative", "scale": {"domain": [0, 360], "nice": false, "zero": false},
           "axis": {"values": [0,45,90,135,180,225,270,315,360], "labelExpr": "datum.value % 90 === 0 ? datum.label : ''", "title": "Ψ"}},
     "y": {"field": "v", "type": "quantitative", "scale": {"domain": [-0.15, 0.2], "nice": false, "zero": false},
           "axis": {"values": [-0.1,0,0.1,0.2], "labelExpr": "replace(format(datum.value, '~g'), '−', '-')", "title": "M²cₙ", "titleX": -19}},
     "color": {"datum": "c8534", "type": "nominal",
      "scale": {"domain": ["c8534", "fuselage", "isolated rotor"], "range": ["#4444ff", "#000000", "#22cc22"]},
      "legend": {"orient": "none", "legendX": 119.5, "legendY": 134, "title": " ", "titleFontSize": 4, "titlePadding": 1, "padding": 9,
        "strokeColor": "#000", "fillColor": "#fff", "labelFont": "Liberation Sans", "labelFontSize": 14, "labelFontWeight": "bold", "labelColor": "#000",
        "symbolSize": 72, "symbolOffset": 28.8, "labelOffset": 35, "rowPadding": 1.5, "labelLimit": 300, "symbolStrokeWidth": 1.3}},
     "shape": {"datum": "c8534", "type": "nominal",
      "scale": {"domain": ["c8534", "fuselage", "isolated rotor"], "range": ["circle", "M-7.78,0H7.78", "M-7.78,0H7.78"]}},
     "strokeDash": {"datum": "c8534", "type": "nominal",
      "scale": {"domain": ["c8534", "fuselage", "isolated rotor"], "range": [[1,0],[1,0],[3,2]]}}
    }},
   {"data": {"name": "p3i"}, "mark": {"type": "line", "color": "#22cc22", "strokeWidth": 1.1, "strokeDash": [3, 2]},
    "encoding": {"x": {"field": "psi", "type": "quantitative"}, "y": {"field": "v", "type": "quantitative"}}},
   {"data": {"name": "p3f"}, "mark": {"type": "line", "color": "#000000", "strokeWidth": 1.2},
    "encoding": {"x": {"field": "psi", "type": "quantitative"}, "y": {"field": "v", "type": "quantitative"}}},
   {"data": {"values": [{}]}, "mark": {"type": "text", "text": "r/R = 0.965", "font": "Liberation Sans", "fontWeight": "bold", "fontSize": 18, "align": "center", "baseline": "middle", "color": "#000"},
    "encoding": {"x": {"datum": 474, "type": "quantitative"}, "y": {"datum": 0.0266, "type": "quantitative"}}}
  ]
 },
 {
  "width": 206, "height": 222,
  "layer": [
   {"data": {"name": "p4c"}, "mark": {"type": "point", "filled": false, "size": 22, "strokeWidth": 1.3, "color": "#4444ff", "opacity": 1},
    "encoding": {
     "x": {"field": "psi", "type": "quantitative", "scale": {"domain": [0, 360], "nice": false, "zero": false},
           "axis": {"values": [0,45,90,135,180,225,270,315,360], "labelExpr": "datum.value % 90 === 0 ? datum.label : ''", "title": "Ψ"}},
     "y": {"field": "v", "type": "quantitative", "scale": {"domain": [-0.025, 0.015], "nice": false, "zero": false},
           "axis": {"values": [-0.02,-0.01,0,0.01], "labelExpr": "replace(format(datum.value, '~g'), '−', '-')", "title": "M²cₘ", "titleX": -31}}}},
   {"data": {"name": "p4i"}, "mark": {"type": "line", "color": "#22cc22", "strokeWidth": 1.1, "strokeDash": [3, 2]},
    "encoding": {"x": {"field": "psi", "type": "quantitative"}, "y": {"field": "v", "type": "quantitative"}}},
   {"data": {"name": "p4f"}, "mark": {"type": "line", "color": "#000000", "strokeWidth": 1.2},
    "encoding": {"x": {"field": "psi", "type": "quantitative"}, "y": {"field": "v", "type": "quantitative"}}}
  ]
 }
]
}
